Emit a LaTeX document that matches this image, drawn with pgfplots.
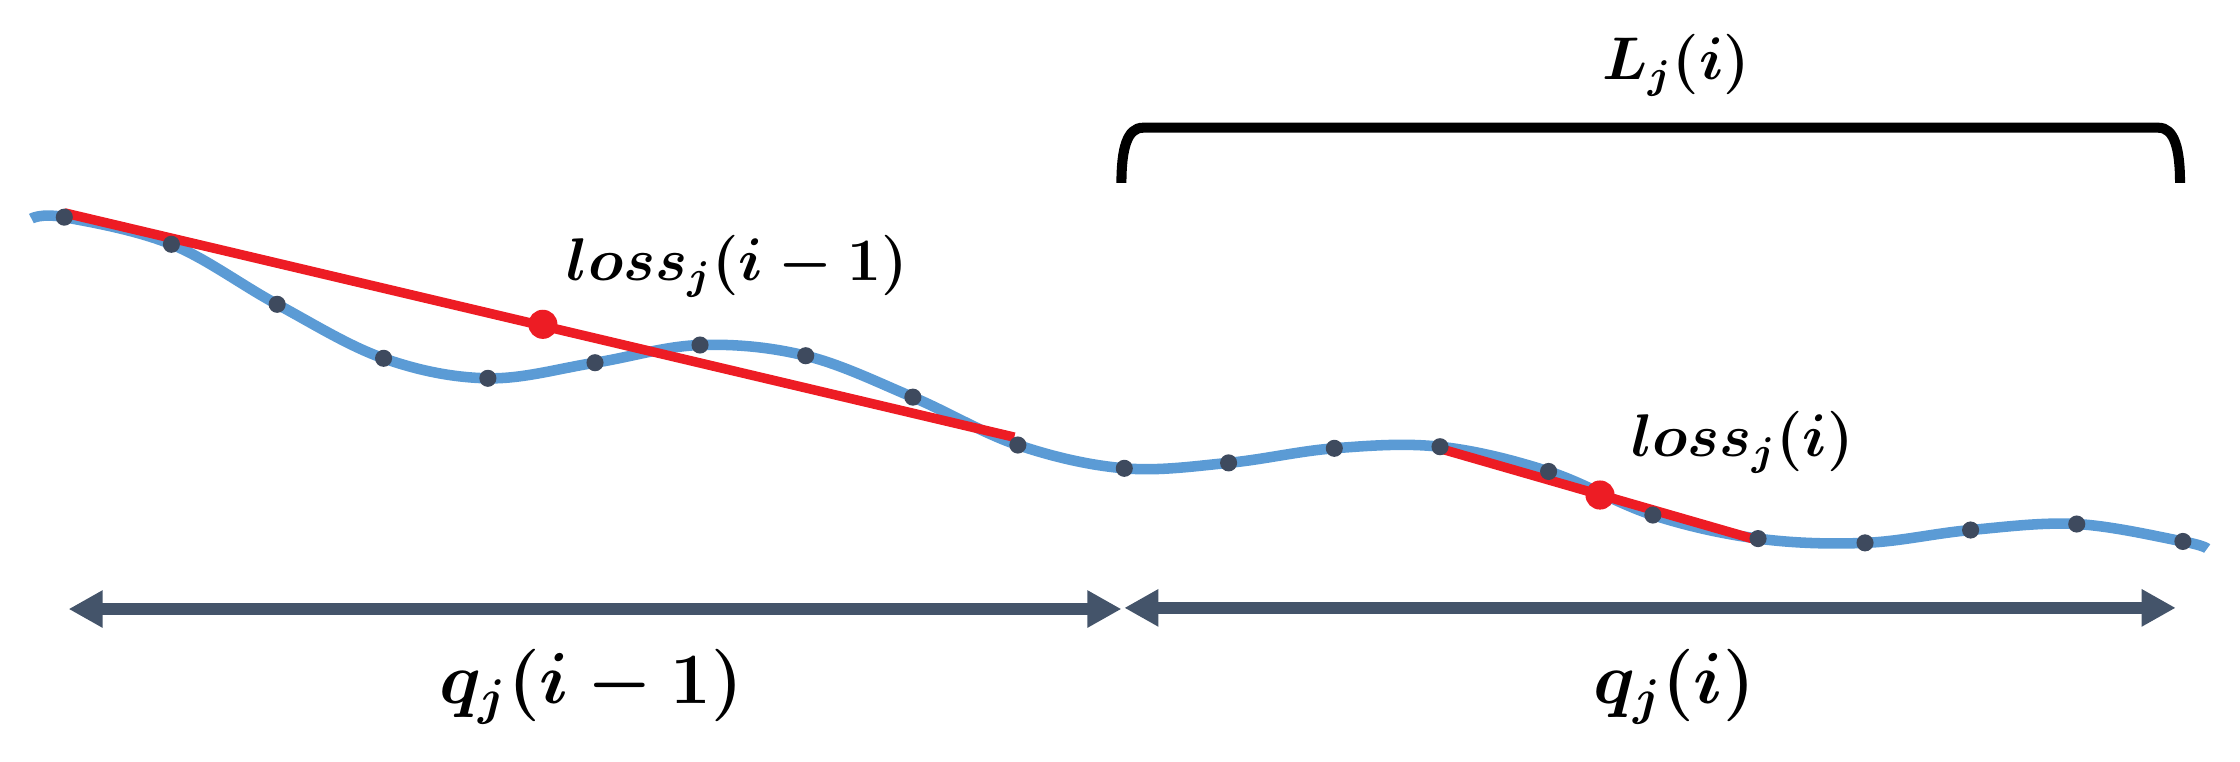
\documentclass[border=0pt]{standalone}
\usepackage{pgfplots}
\pgfplotsset{compat=1.18}
\usetikzlibrary{arrows.meta}
\definecolor{curveblue}{HTML}{5B9BD5}
\definecolor{dotgray}{HTML}{3E4A5E}
\definecolor{lossred}{HTML}{ED1C24}
\definecolor{arrowgray}{HTML}{44546A}
\begin{document}
\begin{tikzpicture}
\begin{axis}[
    width=15.68cm,height=5.33cm,scale only axis,
    xmin=0,xmax=1568,ymin=0,ymax=533,
    y dir=reverse,
    hide axis,clip=false
]
% frame the page
\addplot[draw=none] coordinates {(0,0) (1568,533)};
% signal curve
\addplot[curveblue,line width=2.1pt,smooth,tension=0.6] coordinates {
  (22,153) (45,152) (120,171) (194,213) (268.5,250.8) (341.5,264.8)
  (416.5,253.9) (490,241.5) (564,249) (639,278) (712.5,311.5)
  (787,327.8) (860,324) (934,313.8) (1008,312.7) (1084,330)
  (1157,360.5) (1230.6,377) (1305.5,380) (1379.4,371) (1453.7,366.8)
  (1528,379) (1545,384)};
% samples
\addplot[only marks,mark=*,mark size=1.5pt,color=dotgray] coordinates {
  (45,152) (120,171) (194,213) (268.5,250.8) (341.5,264.8)
  (416.5,253.9) (490,241.5) (564,249) (639,278) (712.5,311.5)
  (787,327.8) (860,324) (934,313.8) (1008,312.7) (1084,330)
  (1157,360.5) (1230.6,377) (1305.5,380) (1379.4,371) (1453.7,366.8)
  (1528,379)};
% linear fits
\addplot[lossred,line width=1.9pt] coordinates {(45,149) (710,306)};
\addplot[lossred,line width=1.9pt] coordinates {(1008,314) (1230,378)};
\addplot[only marks,mark=*,mark size=2.7pt,color=lossred] coordinates {(380,227) (1120,346.5)};
% window arrows
\addplot[arrowgray,line width=2.5pt,{Triangle[length=6.8pt,width=7pt]}-{Triangle[length=6.8pt,width=7pt]}]
  coordinates {(48,426.3) (785,426.3)};
\addplot[arrowgray,line width=2.5pt,{Triangle[length=6.8pt,width=7pt]}-{Triangle[length=6.8pt,width=7pt]}]
  coordinates {(787,425.5) (1523,425.5)};
% bracket over L_j(i)
\draw[black,line width=2pt] (axis cs:785,128) .. controls (axis cs:785,104) and (axis cs:789,89.4) .. (axis cs:800,89.4)
  -- (axis cs:1511,89.4) .. controls (axis cs:1522,89.4) and (axis cs:1526,104) .. (axis cs:1526,128);
% labels
\node[anchor=base west,inner sep=0pt,font=\fontsize{12}{14}\selectfont\boldmath] at (axis cs:396,196) {$loss_j(i-1)$};
\node[anchor=base west,inner sep=0pt,font=\fontsize{12}{14}\selectfont\boldmath] at (axis cs:1141,319.7) {$loss_j(i)$};
\node[anchor=base west,inner sep=0pt,font=\fontsize{14.4}{17}\selectfont\boldmath] at (axis cs:307,492.3) {$q_j(i-1)$};
\node[anchor=base west,inner sep=0pt,font=\fontsize{14.4}{17}\selectfont\boldmath] at (axis cs:1115,492.3) {$q_j(i)$};
\node[anchor=base west,inner sep=0pt,font=\fontsize{12}{14}\selectfont\boldmath] at (axis cs:1121,55.5) {$L_j(i)$};
\end{axis}
\end{tikzpicture}
\end{document}
